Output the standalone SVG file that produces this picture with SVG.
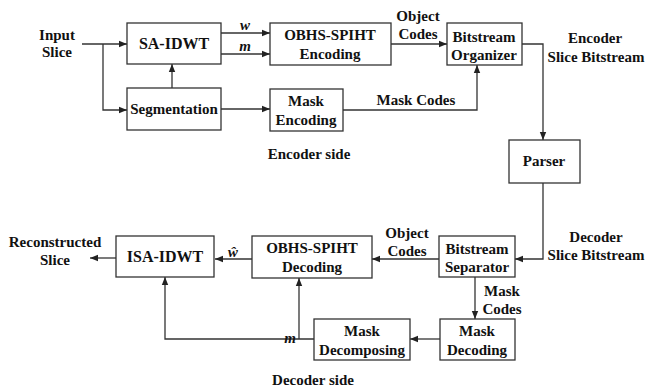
<svg xmlns="http://www.w3.org/2000/svg" width="646" height="388" viewBox="0 0 646 388" font-family="Liberation Serif, Times New Roman, serif">
<style>
text{font-weight:700;font-size:15px;fill:#111;text-anchor:middle}
.it{font-style:italic}
.bx{fill:#fff;stroke:#333;stroke-width:1.3}
.c path{fill:none;stroke:#333;stroke-width:1.3}
</style>
<defs>
<marker id="ah" viewBox="0 0 8 8" refX="8" refY="4" markerWidth="8" markerHeight="8" markerUnits="userSpaceOnUse" orient="auto">
<path d="M0,0.8 L8,4 L0,7.2 Z" fill="#222"/>
</marker>
</defs>
<rect width="646" height="388" fill="#fff"/>
<g class="c" id="connectors">
<path d="M82,44 H127" marker-end="url(#ah)"/>
<path d="M103,44 V110 H127" marker-end="url(#ah)"/>
<path d="M221,33 H270" marker-end="url(#ah)"/>
<path d="M221,54 H270" marker-end="url(#ah)"/>
<path d="M172,88 V64" marker-end="url(#ah)"/>
<path d="M221,109 H270" marker-end="url(#ah)"/>
<path d="M391,44 H447" marker-end="url(#ah)"/>
<path d="M343,110 H477 V65" marker-end="url(#ah)"/>
<path d="M522,44 H543 V140" marker-end="url(#ah)"/>
<path d="M543,183 V259 H515" marker-end="url(#ah)"/>
<path d="M439,259 H372" marker-end="url(#ah)"/>
<path d="M252,259 H215" marker-end="url(#ah)"/>
<path d="M116,258 H90" marker-end="url(#ah)"/>
<path d="M475,277 V319" marker-end="url(#ah)"/>
<path d="M440,339 H410" marker-end="url(#ah)"/>
<path d="M314,339 H165 V277" marker-end="url(#ah)"/>
<path d="M299,339 V278" marker-end="url(#ah)"/>
</g>
<g id="labels">
<text x="57" y="40">Input</text>
<text x="57" y="57">Slice</text>
<text x="245" y="30" class="it">w</text>
<text x="245" y="51" class="it">m</text>
<text x="418" y="21">Object</text>
<text x="418" y="39">Codes</text>
<text x="416" y="105">Mask Codes</text>
<text x="595" y="43">Encoder</text>
<text x="596" y="62">Slice Bitstream</text>
<text x="309" y="159">Encoder side</text>
<text x="596" y="242">Decoder</text>
<text x="596" y="260">Slice Bitstream</text>
<text x="407" y="238">Object</text>
<text x="407" y="256">Codes</text>
<text x="502" y="296">Mask</text>
<text x="502" y="314">Codes</text>
<text x="233" y="257" class="it">ŵ</text>
<text x="290" y="343" class="it">m</text>
<text x="55" y="247">Reconstructed</text>
<text x="55" y="265">Slice</text>
<text x="313" y="385">Decoder side</text>
</g>
<g id="sa-idwt"><rect class="bx" x="127" y="23" width="94" height="41"/><text x="174" y="49" style="font-size:16px">SA-IDWT</text></g>
<g id="segmentation"><rect class="bx" x="127" y="88" width="94" height="42"/><text x="174" y="114">Segmentation</text></g>
<g id="obhs-enc"><rect class="bx" x="270" y="23" width="121" height="42"/><text x="330" y="40">OBHS-SPIHT</text><text x="330" y="59">Encoding</text></g>
<g id="mask-enc"><rect class="bx" x="270" y="89" width="73" height="42"/><text x="306" y="106">Mask</text><text x="306" y="125">Encoding</text></g>
<g id="organizer"><rect class="bx" x="447" y="23" width="75" height="42"/><text x="484" y="42">Bitstream</text><text x="484" y="60">Organizer</text></g>
<g id="parser"><rect class="bx" x="509" y="140" width="71" height="43"/><text x="544" y="166">Parser</text></g>
<g id="separator"><rect class="bx" x="439" y="236" width="76" height="41"/><text x="477" y="254">Bitstream</text><text x="477" y="272">Separator</text></g>
<g id="obhs-dec"><rect class="bx" x="252" y="236" width="120" height="42"/><text x="312" y="253">OBHS-SPIHT</text><text x="312" y="272">Decoding</text></g>
<g id="isa-idwt"><rect class="bx" x="116" y="236" width="98" height="41"/><text x="165" y="262" style="font-size:16px">ISA-IDWT</text></g>
<g id="mask-dec"><rect class="bx" x="440" y="319" width="75" height="41"/><text x="477" y="336">Mask</text><text x="477" y="355">Decoding</text></g>
<g id="mask-decomp"><rect class="bx" x="314" y="319" width="96" height="41"/><text x="362" y="336">Mask</text><text x="362" y="355">Decomposing</text></g>
</svg>
